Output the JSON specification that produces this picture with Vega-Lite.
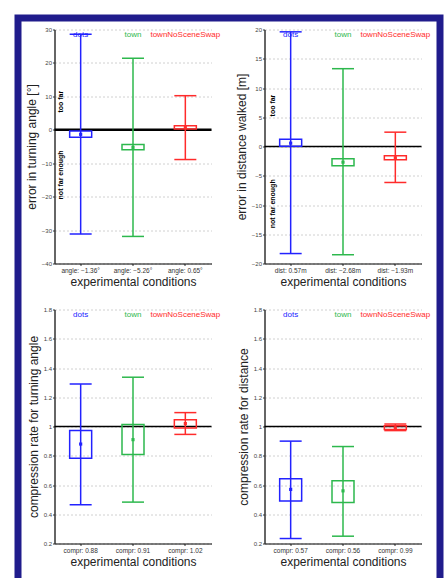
{
"$schema": "https://vega.github.io/schema/vega-lite/v6.json",
"padding": {"left": 14, "top": 14, "right": 1, "bottom": 0},
"background": "white",
"bounds": "flush",
"align": "none",
"columns": 2,
"spacing": -385.5,
"datasets": {
 "angle": [
  {"cond": "dots", "label": "angle: −1.36°", "lo": -31.2, "hi": 28.6, "bLo": -2.2, "bHi": -0.4, "mean": -1.36},
  {"cond": "town", "label": "angle: −5.26°", "lo": -31.9, "hi": 21.4, "bLo": -6.0, "bHi": -4.4, "mean": -5.26},
  {"cond": "townNoSceneSwap", "label": "angle: 0.65°", "lo": -8.9, "hi": 10.2, "bLo": 0.2, "bHi": 1.2, "mean": 0.65}
 ],
 "dist": [
  {"cond": "dots", "label": "dist: 0.57m", "lo": -18.3, "hi": 19.6, "bLo": 0.05, "bHi": 1.25, "mean": 0.57},
  {"cond": "town", "label": "dist: −2.68m", "lo": -18.5, "hi": 13.3, "bLo": -3.3, "bHi": -2.1, "mean": -2.68},
  {"cond": "townNoSceneSwap", "label": "dist: −1.93m", "lo": -6.15, "hi": 2.45, "bLo": -2.25, "bHi": -1.6, "mean": -1.93}
 ],
 "comprAngle": [
  {"cond": "dots", "label": "compr: 0.88", "lo": 0.465, "hi": 1.29, "bLo": 0.783, "bHi": 0.973, "mean": 0.88},
  {"cond": "town", "label": "compr: 0.91", "lo": 0.483, "hi": 1.337, "bLo": 0.808, "bHi": 1.014, "mean": 0.91},
  {"cond": "townNoSceneSwap", "label": "compr: 1.02", "lo": 0.946, "hi": 1.095, "bLo": 0.99, "bHi": 1.047, "mean": 1.02}
 ],
 "comprDist": [
  {"cond": "dots", "label": "compr: 0.57", "lo": 0.234, "hi": 0.9, "bLo": 0.49, "bHi": 0.643, "mean": 0.57},
  {"cond": "town", "label": "compr: 0.56", "lo": 0.25, "hi": 0.863, "bLo": 0.481, "bHi": 0.629, "mean": 0.56},
  {"cond": "townNoSceneSwap", "label": "compr: 0.99", "lo": 0.972, "hi": 1.017, "bLo": 0.98, "bHi": 1.005, "mean": 0.99}
 ]
},
"concat": [
 {
  "width": 422, "height": 560,
  "view": {"fill": "white", "stroke": "#201c8c", "strokeWidth": 7, "strokeDash": [982, 422, 600]},
  "data": {"values": []},
  "mark": "point",
  "encoding": {}
 },
 {
  "bounds": "flush",
  "spacing": 10.5,
  "vconcat": [
   {"width": 1, "height": 1, "data": {"values": []}, "mark": "point", "encoding": {}},
   {
    "bounds": "flush",
    "columns": 2,
    "spacing": {"row": 46, "column": 53},
    "concat": [
     {
      "width": 157, "height": 234,
      "data": {"name": "angle"},
      "layer": [
       {"data": {"values": [{}]}, "mark": {"type": "rule", "color": "black", "strokeWidth": 2.5}, "encoding": {"y": {"datum": 0, "type": "quantitative", "scale": {"domain": [-40, 30], "nice": false, "zero": false}, "title": "error in turning angle [°]", "axis": {"values": [-40, -30, -20, -10, 0, 10, 20, 30]}}}},
       {"mark": {"type": "rule", "strokeWidth": 1.5}, "encoding": {
         "x": {"field": "label", "type": "nominal", "scale": {"domain": ["angle: −1.36°", "angle: −5.26°", "angle: 0.65°"], "paddingInner": 0, "paddingOuter": 0}, "title": "experimental conditions"},
         "y": {"field": "lo", "type": "quantitative", "scale": {"domain": [-40, 30], "nice": false, "zero": false}, "title": "error in turning angle [°]", "axis": {"values": [-40, -30, -20, -10, 0, 10, 20, 30]}},
         "y2": {"field": "hi"},
         "color": {"field": "cond", "type": "nominal", "scale": {"domain": ["dots", "town", "townNoSceneSwap"], "range": ["#2222ff", "#2db84d", "#ff2b2b"]}, "legend": null}}},
       {"mark": {"type": "tick", "size": 22, "thickness": 1.5, "opacity": 1}, "encoding": {
         "x": {"field": "label", "type": "nominal", "title": "experimental conditions"},
         "y": {"field": "hi", "type": "quantitative", "title": "error in turning angle [°]", "axis": {"values": [-40, -30, -20, -10, 0, 10, 20, 30]}},
         "color": {"field": "cond", "type": "nominal", "legend": null}}},
       {"mark": {"type": "tick", "size": 22, "thickness": 1.5, "opacity": 1}, "encoding": {
         "x": {"field": "label", "type": "nominal", "title": "experimental conditions"},
         "y": {"field": "lo", "type": "quantitative", "title": "error in turning angle [°]", "axis": {"values": [-40, -30, -20, -10, 0, 10, 20, 30]}},
         "color": {"field": "cond", "type": "nominal", "legend": null}}},
       {"mark": {"type": "bar", "filled": false, "size": 22, "strokeWidth": 1.5}, "encoding": {
         "x": {"field": "label", "type": "nominal", "title": "experimental conditions"},
         "y": {"field": "bLo", "type": "quantitative", "title": "error in turning angle [°]", "axis": {"values": [-40, -30, -20, -10, 0, 10, 20, 30]}},
         "y2": {"field": "bHi"},
         "color": {"field": "cond", "type": "nominal", "legend": null}}},
       {"mark": {"type": "point", "shape": "square", "filled": true, "size": 10, "opacity": 1}, "encoding": {
         "x": {"field": "label", "type": "nominal", "title": "experimental conditions"},
         "y": {"field": "mean", "type": "quantitative", "title": "error in turning angle [°]", "axis": {"values": [-40, -30, -20, -10, 0, 10, 20, 30]}},
         "color": {"field": "cond", "type": "nominal", "legend": null}}},
       {"mark": {"type": "text", "fontSize": 8, "baseline": "top", "dy": 1}, "encoding": {
         "x": {"field": "label", "type": "nominal", "title": "experimental conditions"},
         "y": {"datum": 30, "type": "quantitative", "title": "error in turning angle [°]", "axis": {"values": [-40, -30, -20, -10, 0, 10, 20, 30]}},
         "text": {"field": "cond"},
         "color": {"field": "cond", "type": "nominal", "legend": null}}},
       {"data": {"values": [{"note": "too far", "v": 8.4}, {"note": "not far enough", "v": -13.5}]},
        "mark": {"type": "text", "angle": 270, "fontSize": 7, "fontWeight": "bold", "color": "black", "dy": -20},
        "encoding": {
         "x": {"datum": "angle: −1.36°", "type": "nominal", "title": "experimental conditions"},
         "y": {"field": "v", "type": "quantitative", "title": "error in turning angle [°]", "axis": {"values": [-40, -30, -20, -10, 0, 10, 20, 30]}},
         "text": {"field": "note"}}}
      ]
     },
     {
      "width": 157, "height": 234,
      "data": {"name": "dist"},
      "layer": [
       {"data": {"values": [{}]}, "mark": {"type": "rule", "color": "black", "strokeWidth": 1.5}, "encoding": {"y": {"datum": 0, "type": "quantitative", "scale": {"domain": [-20, 20], "nice": false, "zero": false}, "title": "error in distance walked [m]", "axis": {"values": [-20, -15, -10, -5, 0, 5, 10, 15, 20]}}}},
       {"mark": {"type": "rule", "strokeWidth": 1.5}, "encoding": {
         "x": {"field": "label", "type": "nominal", "scale": {"domain": ["dist: 0.57m", "dist: −2.68m", "dist: −1.93m"], "paddingInner": 0, "paddingOuter": 0}, "title": "experimental conditions"},
         "y": {"field": "lo", "type": "quantitative", "scale": {"domain": [-20, 20], "nice": false, "zero": false}, "title": "error in distance walked [m]", "axis": {"values": [-20, -15, -10, -5, 0, 5, 10, 15, 20]}},
         "y2": {"field": "hi"},
         "color": {"field": "cond", "type": "nominal", "scale": {"domain": ["dots", "town", "townNoSceneSwap"], "range": ["#2222ff", "#2db84d", "#ff2b2b"]}, "legend": null}}},
       {"mark": {"type": "tick", "size": 22, "thickness": 1.5, "opacity": 1}, "encoding": {
         "x": {"field": "label", "type": "nominal", "title": "experimental conditions"},
         "y": {"field": "hi", "type": "quantitative", "title": "error in distance walked [m]", "axis": {"values": [-20, -15, -10, -5, 0, 5, 10, 15, 20]}},
         "color": {"field": "cond", "type": "nominal", "legend": null}}},
       {"mark": {"type": "tick", "size": 22, "thickness": 1.5, "opacity": 1}, "encoding": {
         "x": {"field": "label", "type": "nominal", "title": "experimental conditions"},
         "y": {"field": "lo", "type": "quantitative", "title": "error in distance walked [m]", "axis": {"values": [-20, -15, -10, -5, 0, 5, 10, 15, 20]}},
         "color": {"field": "cond", "type": "nominal", "legend": null}}},
       {"mark": {"type": "bar", "filled": false, "size": 22, "strokeWidth": 1.5}, "encoding": {
         "x": {"field": "label", "type": "nominal", "title": "experimental conditions"},
         "y": {"field": "bLo", "type": "quantitative", "title": "error in distance walked [m]", "axis": {"values": [-20, -15, -10, -5, 0, 5, 10, 15, 20]}},
         "y2": {"field": "bHi"},
         "color": {"field": "cond", "type": "nominal", "legend": null}}},
       {"mark": {"type": "point", "shape": "square", "filled": true, "size": 10, "opacity": 1}, "encoding": {
         "x": {"field": "label", "type": "nominal", "title": "experimental conditions"},
         "y": {"field": "mean", "type": "quantitative", "title": "error in distance walked [m]", "axis": {"values": [-20, -15, -10, -5, 0, 5, 10, 15, 20]}},
         "color": {"field": "cond", "type": "nominal", "legend": null}}},
       {"mark": {"type": "text", "fontSize": 8, "baseline": "top", "dy": 1}, "encoding": {
         "x": {"field": "label", "type": "nominal", "title": "experimental conditions"},
         "y": {"datum": 20, "type": "quantitative", "title": "error in distance walked [m]", "axis": {"values": [-20, -15, -10, -5, 0, 5, 10, 15, 20]}},
         "text": {"field": "cond"},
         "color": {"field": "cond", "type": "nominal", "legend": null}}},
       {"data": {"values": [{"note": "too far", "v": 7.0}, {"note": "not far enough", "v": -9.8}]},
        "mark": {"type": "text", "angle": 270, "fontSize": 7, "fontWeight": "bold", "color": "black", "dy": -18},
        "encoding": {
         "x": {"datum": "dist: 0.57m", "type": "nominal", "title": "experimental conditions"},
         "y": {"field": "v", "type": "quantitative", "title": "error in distance walked [m]", "axis": {"values": [-20, -15, -10, -5, 0, 5, 10, 15, 20]}},
         "text": {"field": "note"}}}
      ]
     },
     {
      "width": 157, "height": 234,
      "data": {"name": "comprAngle"},
      "layer": [
       {"data": {"values": [{}]}, "mark": {"type": "rule", "color": "black", "strokeWidth": 1.5}, "encoding": {"y": {"datum": 1, "type": "quantitative", "scale": {"domain": [0.2, 1.8], "nice": false, "zero": false}, "title": "compression rate for turning angle", "axis": {"values": [0.2, 0.4, 0.6, 0.8, 1, 1.2, 1.4, 1.6, 1.8]}}}},
       {"mark": {"type": "rule", "strokeWidth": 1.5}, "encoding": {
         "x": {"field": "label", "type": "nominal", "scale": {"domain": ["compr: 0.88", "compr: 0.91", "compr: 1.02"], "paddingInner": 0, "paddingOuter": 0}, "title": "experimental conditions"},
         "y": {"field": "lo", "type": "quantitative", "scale": {"domain": [0.2, 1.8], "nice": false, "zero": false}, "title": "compression rate for turning angle", "axis": {"values": [0.2, 0.4, 0.6, 0.8, 1, 1.2, 1.4, 1.6, 1.8]}},
         "y2": {"field": "hi"},
         "color": {"field": "cond", "type": "nominal", "scale": {"domain": ["dots", "town", "townNoSceneSwap"], "range": ["#2222ff", "#2db84d", "#ff2b2b"]}, "legend": null}}},
       {"mark": {"type": "tick", "size": 22, "thickness": 1.5, "opacity": 1}, "encoding": {
         "x": {"field": "label", "type": "nominal", "title": "experimental conditions"},
         "y": {"field": "hi", "type": "quantitative", "title": "compression rate for turning angle", "axis": {"values": [0.2, 0.4, 0.6, 0.8, 1, 1.2, 1.4, 1.6, 1.8]}},
         "color": {"field": "cond", "type": "nominal", "legend": null}}},
       {"mark": {"type": "tick", "size": 22, "thickness": 1.5, "opacity": 1}, "encoding": {
         "x": {"field": "label", "type": "nominal", "title": "experimental conditions"},
         "y": {"field": "lo", "type": "quantitative", "title": "compression rate for turning angle", "axis": {"values": [0.2, 0.4, 0.6, 0.8, 1, 1.2, 1.4, 1.6, 1.8]}},
         "color": {"field": "cond", "type": "nominal", "legend": null}}},
       {"mark": {"type": "bar", "filled": false, "size": 22, "strokeWidth": 1.5}, "encoding": {
         "x": {"field": "label", "type": "nominal", "title": "experimental conditions"},
         "y": {"field": "bLo", "type": "quantitative", "title": "compression rate for turning angle", "axis": {"values": [0.2, 0.4, 0.6, 0.8, 1, 1.2, 1.4, 1.6, 1.8]}},
         "y2": {"field": "bHi"},
         "color": {"field": "cond", "type": "nominal", "legend": null}}},
       {"mark": {"type": "point", "shape": "square", "filled": true, "size": 10, "opacity": 1}, "encoding": {
         "x": {"field": "label", "type": "nominal", "title": "experimental conditions"},
         "y": {"field": "mean", "type": "quantitative", "title": "compression rate for turning angle", "axis": {"values": [0.2, 0.4, 0.6, 0.8, 1, 1.2, 1.4, 1.6, 1.8]}},
         "color": {"field": "cond", "type": "nominal", "legend": null}}},
       {"mark": {"type": "text", "fontSize": 8, "baseline": "top", "dy": 1}, "encoding": {
         "x": {"field": "label", "type": "nominal", "title": "experimental conditions"},
         "y": {"datum": 1.8, "type": "quantitative", "title": "compression rate for turning angle", "axis": {"values": [0.2, 0.4, 0.6, 0.8, 1, 1.2, 1.4, 1.6, 1.8]}},
         "text": {"field": "cond"},
         "color": {"field": "cond", "type": "nominal", "legend": null}}}
      ]
     },
     {
      "width": 157, "height": 234,
      "data": {"name": "comprDist"},
      "layer": [
       {"data": {"values": [{}]}, "mark": {"type": "rule", "color": "black", "strokeWidth": 1.5}, "encoding": {"y": {"datum": 1, "type": "quantitative", "scale": {"domain": [0.2, 1.8], "nice": false, "zero": false}, "title": "compression rate for distance", "axis": {"values": [0.2, 0.4, 0.6, 0.8, 1, 1.2, 1.4, 1.6, 1.8]}}}},
       {"mark": {"type": "rule", "strokeWidth": 1.5}, "encoding": {
         "x": {"field": "label", "type": "nominal", "scale": {"domain": ["compr: 0.57", "compr: 0.56", "compr: 0.99"], "paddingInner": 0, "paddingOuter": 0}, "title": "experimental conditions"},
         "y": {"field": "lo", "type": "quantitative", "scale": {"domain": [0.2, 1.8], "nice": false, "zero": false}, "title": "compression rate for distance", "axis": {"values": [0.2, 0.4, 0.6, 0.8, 1, 1.2, 1.4, 1.6, 1.8]}},
         "y2": {"field": "hi"},
         "color": {"field": "cond", "type": "nominal", "scale": {"domain": ["dots", "town", "townNoSceneSwap"], "range": ["#2222ff", "#2db84d", "#ff2b2b"]}, "legend": null}}},
       {"mark": {"type": "tick", "size": 22, "thickness": 1.5, "opacity": 1}, "encoding": {
         "x": {"field": "label", "type": "nominal", "title": "experimental conditions"},
         "y": {"field": "hi", "type": "quantitative", "title": "compression rate for distance", "axis": {"values": [0.2, 0.4, 0.6, 0.8, 1, 1.2, 1.4, 1.6, 1.8]}},
         "color": {"field": "cond", "type": "nominal", "legend": null}}},
       {"mark": {"type": "tick", "size": 22, "thickness": 1.5, "opacity": 1}, "encoding": {
         "x": {"field": "label", "type": "nominal", "title": "experimental conditions"},
         "y": {"field": "lo", "type": "quantitative", "title": "compression rate for distance", "axis": {"values": [0.2, 0.4, 0.6, 0.8, 1, 1.2, 1.4, 1.6, 1.8]}},
         "color": {"field": "cond", "type": "nominal", "legend": null}}},
       {"mark": {"type": "bar", "filled": false, "size": 22, "strokeWidth": 1.5}, "encoding": {
         "x": {"field": "label", "type": "nominal", "title": "experimental conditions"},
         "y": {"field": "bLo", "type": "quantitative", "title": "compression rate for distance", "axis": {"values": [0.2, 0.4, 0.6, 0.8, 1, 1.2, 1.4, 1.6, 1.8]}},
         "y2": {"field": "bHi"},
         "color": {"field": "cond", "type": "nominal", "legend": null}}},
       {"mark": {"type": "point", "shape": "square", "filled": true, "size": 10, "opacity": 1}, "encoding": {
         "x": {"field": "label", "type": "nominal", "title": "experimental conditions"},
         "y": {"field": "mean", "type": "quantitative", "title": "compression rate for distance", "axis": {"values": [0.2, 0.4, 0.6, 0.8, 1, 1.2, 1.4, 1.6, 1.8]}},
         "color": {"field": "cond", "type": "nominal", "legend": null}}},
       {"mark": {"type": "text", "fontSize": 8, "baseline": "top", "dy": 1}, "encoding": {
         "x": {"field": "label", "type": "nominal", "title": "experimental conditions"},
         "y": {"datum": 1.8, "type": "quantitative", "title": "compression rate for distance", "axis": {"values": [0.2, 0.4, 0.6, 0.8, 1, 1.2, 1.4, 1.6, 1.8]}},
         "text": {"field": "cond"},
         "color": {"field": "cond", "type": "nominal", "legend": null}}}
      ]
     }
    ]
   }
  ]
 }
],
"config": {
 "font": "Liberation Sans",
 "view": {"stroke": null},
 "axisX": {"labelFontSize": 6.5, "labelColor": "#333", "labelAngle": 0, "tickSize": 2, "tickColor": "#333", "domainColor": "black", "domainWidth": 1, "labelPadding": 2, "titleFontSize": 12, "titleFontWeight": "normal", "titleColor": "#222", "titlePadding": 2, "grid": false},
 "axisY": {"labelFontSize": 6, "labelColor": "#444", "tickSize": 2, "tickColor": "#333", "domainColor": "#333", "domainWidth": 1.5, "labelPadding": 1, "format": "~r", "labelOverlap": false, "titleFontSize": 12, "titleFontWeight": "normal", "titleColor": "#222", "titlePadding": 3, "grid": true, "gridDash": [2, 2], "gridColor": "#c4c4c4", "gridWidth": 0.8}
}
}
